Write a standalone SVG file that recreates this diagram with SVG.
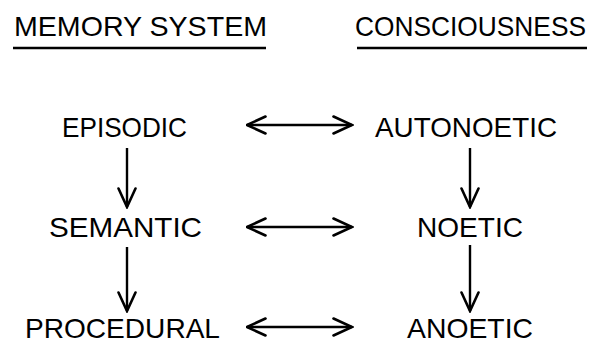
<svg xmlns="http://www.w3.org/2000/svg" width="601" height="341" viewBox="0 0 601 341">
<style>
text{font-family:"Liberation Sans",Arial,sans-serif;font-size:28.5px;fill:#000}
.ln{stroke:#000;stroke-width:2.4;fill:none}
</style>
<defs>
<marker id="ah" viewBox="0 0 22 20" refX="20.5" refY="10" markerWidth="22" markerHeight="20" markerUnits="userSpaceOnUse" orient="auto-start-reverse">
<path d="M2,1.5 L20.5,10 L2,18.5" fill="none" stroke="#000" stroke-width="2.6" stroke-linecap="round" stroke-linejoin="miter"/>
</marker>
</defs>
<g id="header-memory"><text x="14" y="36" textLength="253" lengthAdjust="spacingAndGlyphs">MEMORY SYSTEM</text><line class="ln" x1="13" y1="48" x2="266" y2="48"/></g>
<g id="header-consciousness"><text x="355" y="36" textLength="231" lengthAdjust="spacingAndGlyphs">CONSCIOUSNESS</text><line class="ln" x1="357" y1="48" x2="587" y2="48"/></g>
<g id="episodic"><text x="62" y="137" textLength="125" lengthAdjust="spacingAndGlyphs">EPISODIC</text></g>
<g id="autonoetic"><text x="375" y="137" textLength="182" lengthAdjust="spacingAndGlyphs">AUTONOETIC</text></g>
<g id="semantic"><text x="49" y="237" textLength="153" lengthAdjust="spacingAndGlyphs">SEMANTIC</text></g>
<g id="noetic"><text x="417" y="237" textLength="106" lengthAdjust="spacingAndGlyphs">NOETIC</text></g>
<g id="procedural"><text x="25" y="338" textLength="195" lengthAdjust="spacingAndGlyphs">PROCEDURAL</text></g>
<g id="anoetic"><text x="407" y="338" textLength="126" lengthAdjust="spacingAndGlyphs">ANOETIC</text></g>
<g id="connectors">
<line class="ln" x1="247" y1="125" x2="352" y2="125" marker-start="url(#ah)" marker-end="url(#ah)"/>
<line class="ln" x1="247" y1="227" x2="352" y2="227" marker-start="url(#ah)" marker-end="url(#ah)"/>
<line class="ln" x1="247" y1="327" x2="352" y2="327" marker-start="url(#ah)" marker-end="url(#ah)"/>
<line class="ln" x1="127" y1="148" x2="127" y2="207" marker-end="url(#ah)"/>
<line class="ln" x1="470" y1="148" x2="470" y2="207" marker-end="url(#ah)"/>
<line class="ln" x1="127" y1="247" x2="127" y2="311" marker-end="url(#ah)"/>
<line class="ln" x1="470" y1="245" x2="470" y2="311" marker-end="url(#ah)"/>
</g>
</svg>
